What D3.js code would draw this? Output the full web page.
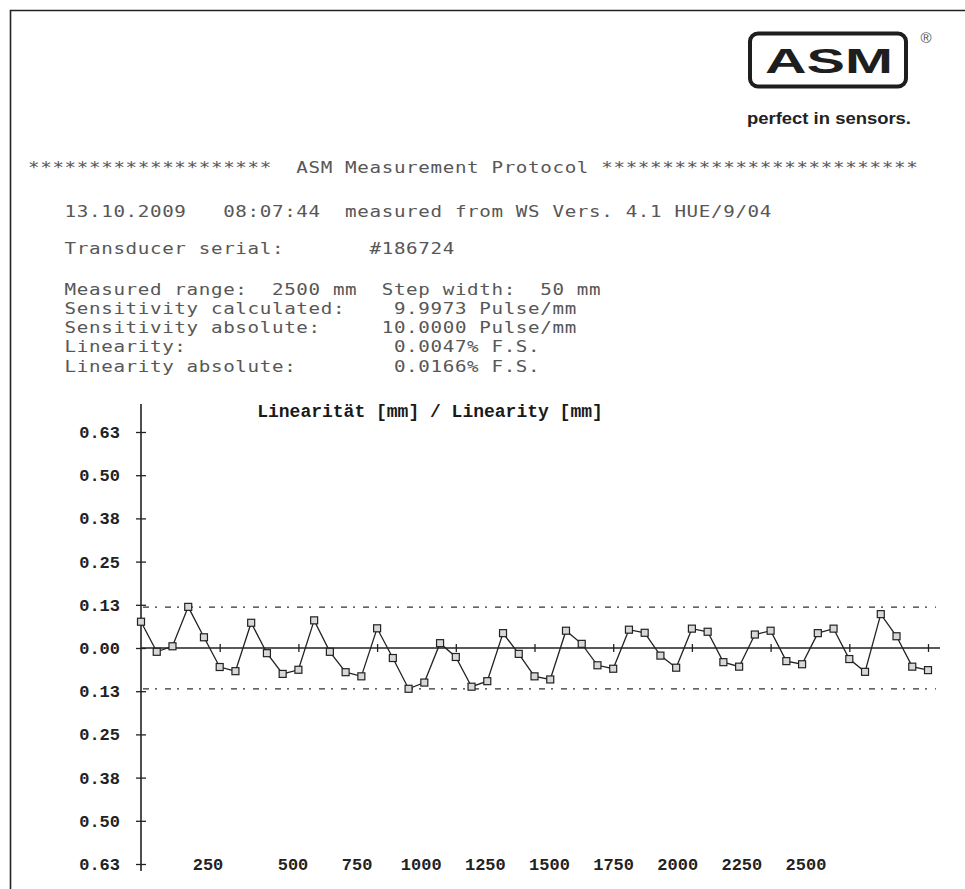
<!DOCTYPE html>
<html>
<head>
<meta charset="utf-8">
<script src="https://cdn.jsdelivr.net/npm/d3@7"></script>
<style>
  body { margin: 0; background: #fff; }
  svg text.pre { white-space: pre; }
</style>
</head>
<body>
<script>
"use strict";

// protocol header lines (printer text)
const headerLines = [
	"********************  ASM Measurement Protocol **************************",
	"   13.10.2009   08:07:44  measured from WS Vers. 4.1 HUE/9/04",
	"   Transducer serial:       #186724",
	"   Measured range:  2500 mm  Step width:  50 mm",
	"   Sensitivity calculated:    9.9973 Pulse/mm",
	"   Sensitivity absolute:     10.0000 Pulse/mm",
	"   Linearity:                 0.0047% F.S.",
	"   Linearity absolute:        0.0166% F.S."
];

// measured position (mm) and linearity deviation (mm)
const positions = [0, 50, 100, 150, 200, 250, 300, 350, 400, 450, 500, 550, 600, 650, 700, 750, 800, 850, 900, 950,
	1000, 1050, 1100, 1150, 1200, 1250, 1300, 1350, 1400, 1450, 1500, 1550, 1600, 1650, 1700, 1750, 1800, 1850, 1900, 1950,
	2000, 2050, 2100, 2150, 2200, 2250, 2300, 2350, 2400, 2450, 2500];
const deviations = [0.076, -0.011, 0.005, 0.119, 0.031, -0.055, -0.067, 0.073, -0.015, -0.075,
	-0.063, 0.080, -0.011, -0.070, -0.082, 0.057, -0.029, -0.118, -0.100, 0.014,
	-0.026, -0.112, -0.096, 0.043, -0.017, -0.082, -0.091, 0.050, 0.012, -0.050,
	-0.060, 0.053, 0.044, -0.022, -0.057, 0.056, 0.047, -0.041, -0.054, 0.039,
	0.050, -0.038, -0.047, 0.043, 0.056, -0.032, -0.069, 0.098, 0.034, -0.054, -0.064];

// tolerance band (dash-dot lines)
const limits = [0.118, -0.118];

// axis ticks + the labels as printed (no minus sign)
const yTicks = [0.625, 0.5, 0.375, 0.25, 0.125, 0, -0.125, -0.25, -0.375, -0.5, -0.625];
const yTickLabels = ["0.63", "0.50", "0.38", "0.25", "0.13", "0.00", "0.13", "0.25", "0.38", "0.50", "0.63"];
const xTicks = [250, 500, 750, 1000, 1250, 1500, 1750, 2000, 2250, 2500];
const xTickLabels = ["250", "500", "750", "1000", "1250", "1500", "1750", "2000", "2250", "2500"];

const chartTitle = "Linearität [mm] / Linearity [mm]";

var width = 965,
    height = 889;

var svg = d3.select("body").append("svg")
	.attr("width", width)
	.attr("height", height);

// page frame (scanned sheet edge)
svg.append("path")
	.attr("d", "M10.5,889 L10.5,10.5 L965,10.5")
	.attr("fill", "none")
	.attr("stroke", "#222")
	.attr("stroke-width", 1.6);

//---- logo ----
var logo = svg.append("g");
logo.append("rect")
	.attr("x", 750).attr("y", 33.5)
	.attr("width", 156).attr("height", 53)
	.attr("rx", 8)
	.attr("fill", "none")
	.attr("stroke", "#1e1e1e")
	.attr("stroke-width", 4);
logo.append("text")
	.attr("x", 765).attr("y", 73)
	.attr("textLength", 128)
	.attr("lengthAdjust", "spacingAndGlyphs")
	.style("font", "bold 35px 'Liberation Sans', Arial, sans-serif")
	.style("fill", "#1e1e1e")
	.text("ASM");
logo.append("text")
	.attr("x", 926).attr("y", 43)
	.attr("text-anchor", "middle")
	.style("font", "15px 'Liberation Sans', Arial, sans-serif")
	.style("fill", "#555")
	.text("®");
logo.append("text")
	.attr("x", 747).attr("y", 124)
	.attr("textLength", 164)
	.attr("lengthAdjust", "spacingAndGlyphs")
	.style("font", "bold 17px 'Liberation Sans', Arial, sans-serif")
	.style("fill", "#222")
	.text("perfect in sensors.");

//---- protocol text ----
// wide printer font: stretch a mono font sideways to ~12.2px per column
var lineY = [173, 217, 254, 295, 314, 333, 352, 372];
svg.append("g")
	.attr("transform", "translate(28,0) scale(1.2,1)")
	.selectAll("text")
	.data(headerLines)
	.enter().append("text")
	.attr("class", "pre")
	.attr("x", 0)
	.attr("y", function(d, i) { return lineY[i]; })
	.style("font", "16px 'DejaVu Sans Mono', monospace")
	.style("letter-spacing", "0.54px")
	.style("fill", "#575757")
	.text(function(d) { return d; });

//---- chart ----
var x = d3.scaleLinear()
	.domain([0, 2500])
	.range([141, 928]);

// the printout puts the x labels on their own (tighter) grid,
// with a wider gap between the first two
var xLabel = d3.scaleLinear()
	.domain([250, 500, 2500])
	.range([208, 293, 806]);

var y = d3.scaleLinear()
	.domain([-0.625, 0.625])
	.range([864, 432]);

var tickFont = "bold 17px 'Liberation Mono', 'DejaVu Sans Mono', monospace";

// y axis
var yAxis = d3.axisLeft(y)
	.tickValues(yTicks)
	.tickSize(5)
	.tickPadding(16)
	.tickFormat(function(d, i) { return yTickLabels[i]; });

var gy = svg.append("g")
	.attr("transform", "translate(" + x(0) + ",0)")
	.call(yAxis);
gy.select(".domain").remove();
gy.selectAll(".tick line").attr("x1", 5).attr("stroke", "#222").attr("stroke-width", 1.3);
gy.selectAll(".tick text")
	.style("font", tickFont)
	.style("fill", "#222");

// vertical axis line
svg.append("line")
	.attr("x1", x(0)).attr("x2", x(0))
	.attr("y1", 404).attr("y2", 871)
	.attr("stroke", "#222")
	.attr("stroke-width", 1.6);

// zero line with small ticks
var xEnd = x.range()[1] + 12;
svg.append("line")
	.attr("x1", x(0)).attr("x2", xEnd)
	.attr("y1", y(0)).attr("y2", y(0))
	.attr("stroke", "#222")
	.attr("stroke-width", 1.6);

var xAxis = d3.axisBottom(x)
	.tickValues(xTicks)
	.tickSize(4)
	.tickFormat("");
var gx = svg.append("g")
	.attr("transform", "translate(0," + y(0) + ")")
	.call(xAxis);
gx.select(".domain").remove();
gx.selectAll(".tick line").attr("y1", -4).attr("stroke", "#222").attr("stroke-width", 1.3);

// x labels along the bottom
svg.append("g")
	.selectAll("text")
	.data(xTicks)
	.enter().append("text")
	.attr("x", function(d) { return xLabel(d); })
	.attr("y", 870)
	.attr("text-anchor", "middle")
	.style("font", tickFont)
	.style("fill", "#222")
	.text(function(d, i) { return xTickLabels[i]; });

// tolerance lines
svg.append("g")
	.selectAll("line")
	.data(limits)
	.enter().append("line")
	.attr("x1", x(0) + 2).attr("x2", xEnd - 4)
	.attr("y1", function(d) { return y(d); })
	.attr("y2", function(d) { return y(d); })
	.attr("stroke", "#333")
	.attr("stroke-width", 1.3)
	.attr("stroke-dasharray", "6,6,2,8");

// title
svg.append("text")
	.attr("class", "pre")
	.attr("x", 430).attr("y", 417)
	.attr("text-anchor", "middle")
	.style("font", "bold 18px 'Liberation Mono', 'DejaVu Sans Mono', monospace")
	.style("fill", "#1a1a1a")
	.text(chartTitle);

// data line + square markers
var pts = positions.map(function(p, i) { return { pos: p, dev: deviations[i] }; });

var line = d3.line()
	.x(function(d) { return x(d.pos); })
	.y(function(d) { return y(d.dev); });

svg.append("path")
	.datum(pts)
	.attr("d", line)
	.attr("fill", "none")
	.attr("stroke", "#222")
	.attr("stroke-width", 1.3);

svg.append("g")
	.selectAll("rect")
	.data(pts)
	.enter().append("rect")
	.attr("x", function(d) { return x(d.pos) - 3.5; })
	.attr("y", function(d) { return y(d.dev) - 3.5; })
	.attr("width", 7)
	.attr("height", 7)
	.attr("fill", "#d8d8d8")
	.attr("stroke", "#222")
	.attr("stroke-width", 1.2);
</script>
</body>
</html>
